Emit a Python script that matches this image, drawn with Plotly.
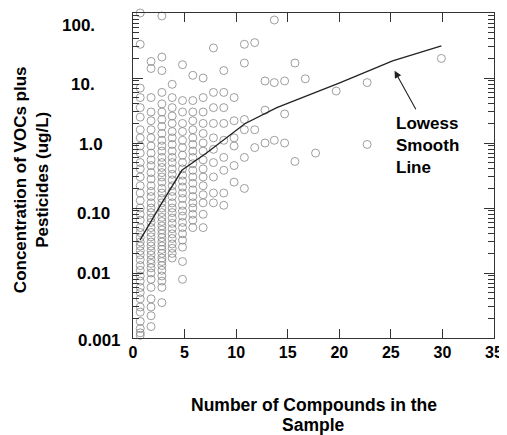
import plotly.graph_objects as go
import math

# Observed column positions (number of compounds) and concentrations (ug/L)
col_x = [0.7, 1.75, 2.8, 3.8, 4.8, 5.8, 6.8, 7.8, 8.8, 9.8, 10.8, 11.8,
         12.8, 13.7, 14.7, 15.7, 16.7, 17.7, 19.7, 20.7, 22.7, 29.9]
col_y = [
    [100, 33, 7, 5, 3.5, 2.5, 1.6, 1.2, 0.9, 0.7, 0.5, 0.4, 0.3, 0.22, 0.17, 0.13,
     0.1, 0.08, 0.065, 0.05, 0.042, 0.035, 0.03, 0.026, 0.022, 0.019, 0.016, 0.013,
     0.011, 0.009, 0.0075, 0.006, 0.005, 0.004, 0.003, 0.0025, 0.0018, 0.0014, 0.0012, 0.0011],
    [18, 14, 5, 3, 2.2, 1.6, 1.2, 0.9, 0.7, 0.55, 0.45, 0.35, 0.28, 0.22, 0.18, 0.15,
     0.12, 0.1, 0.085, 0.07, 0.06, 0.05, 0.042, 0.036, 0.03, 0.026, 0.022, 0.019,
     0.016, 0.014, 0.012, 0.01, 0.008, 0.006, 0.004, 0.003, 0.0022, 0.0015],
    [90, 21, 13, 6, 4, 3, 2.3, 1.8, 1.4, 1.1, 0.9, 0.75, 0.6, 0.5, 0.42, 0.35, 0.3,
     0.25, 0.2, 0.17, 0.14, 0.12, 0.1, 0.085, 0.072, 0.062, 0.053, 0.046, 0.04, 0.035,
     0.03, 0.026, 0.023, 0.02, 0.017, 0.015, 0.013, 0.011, 0.009, 0.0075, 0.006, 0.0035],
    [8, 5, 3.5, 2.6, 2, 1.5, 1.2, 0.95, 0.75, 0.6, 0.5, 0.4, 0.33, 0.27, 0.22, 0.18,
     0.15, 0.12, 0.1, 0.085, 0.07, 0.058, 0.048, 0.04, 0.034, 0.028, 0.024, 0.02, 0.017],
    [16, 4.5, 3, 2, 1.5, 1.1, 0.85, 0.65, 0.5, 0.4, 0.32, 0.26, 0.21, 0.17, 0.14,
     0.11, 0.09, 0.075, 0.06, 0.05, 0.04, 0.032, 0.025, 0.015, 0.008],
    [11, 4.5, 3, 2.2, 1.6, 1.2, 0.95, 0.75, 0.6, 0.48, 0.38, 0.3, 0.24, 0.19, 0.15,
     0.12, 0.1, 0.08, 0.065, 0.05],
    [10, 5, 3, 2, 1.4, 1, 0.75, 0.55, 0.4, 0.3, 0.22, 0.16, 0.12, 0.08, 0.05],
    [29, 6, 3.5, 2, 1.2, 0.8, 0.5, 0.3, 0.17, 0.12],
    [13, 6, 3.5, 2, 1.1, 0.6, 0.38, 0.17, 0.11],
    [5, 2.2, 1.2, 0.9, 0.45, 0.25],
    [33, 17, 2.3, 1.6, 0.6, 0.2],
    [35, 1.6, 0.85],
    [9, 3.2, 1.0],
    [78, 8.5, 1.1],
    [9, 2.8, 1.0],
    [17, 0.52],
    [9.7],
    [0.7],
    [6.3],
    [107],
    [8.5, 0.95],
    [20],
]

# Lowess smooth line
lowess_x = [0.68, 2.8, 4.74, 7.16, 10.84, 13.94, 20.04, 25.17, 29.9]
lowess_y = [0.032, 0.12, 0.38, 0.71, 1.98, 3.5, 8.4, 18.4, 31.2]

y_tickvals = [100, 10, 1, 0.1, 0.01, 0.001]
y_ticktext = ["100.", "10.", "1.0", "0.10", "0.01", "0.001"]
x_tickvals = [0, 5, 10, 15, 20, 25, 30, 35]

pts_x, pts_y = [], []
for cx, ys in zip(col_x, col_y):
    for v in ys:
        pts_x.append(cx)
        pts_y.append(v)

FONT = "Liberation Sans, Arial, sans-serif"

fig = go.Figure()
fig.add_trace(go.Scatter(
    x=pts_x, y=pts_y, mode="markers",
    marker=dict(symbol="circle-open", size=8, color="#858585", line=dict(width=0.8)),
    cliponaxis=False, showlegend=False,
))
fig.add_trace(go.Scatter(
    x=lowess_x, y=lowess_y, mode="lines", line=dict(color="#222222", width=1.3),
    showlegend=False,
))

# y tick label placement (label right edge in paper x, vertical shift in px)
lab_right = [-0.099, -0.099, -0.077, -0.058, -0.058, -0.028]
lab_shift = [-12, -6, -1, -5, 0, -2]

annotations = []
for v, t, xr, sh in zip(y_tickvals, y_ticktext, lab_right, lab_shift):
    annotations.append(dict(
        text=f"<b>{t}</b>", xref="paper", yref="y", x=xr, y=math.log10(v),
        xanchor="right", yanchor="middle", yshift=sh, showarrow=False,
        font=dict(size=17)))

annotations += [
    dict(text="<b>Concentration of VOCs plus</b>",
         xref="paper", yref="paper", x=-0.311, y=0.488, textangle=-90,
         showarrow=False, font=dict(size=17), xanchor="center", yanchor="middle"),
    dict(text="<b>Pesticides (ug/L)</b>",
         xref="paper", yref="paper", x=-0.251, y=0.488, textangle=-90,
         showarrow=False, font=dict(size=17), xanchor="center", yanchor="middle"),
    dict(text="<b>Number of Compounds in the</b>",
         xref="paper", yref="paper", x=0.5, y=-0.2055, showarrow=False,
         font=dict(size=17.5), xanchor="center", yanchor="middle"),
    dict(text="<b>Sample</b>",
         xref="paper", yref="paper", x=0.5, y=-0.267, showarrow=False,
         font=dict(size=17.5), xanchor="center", yanchor="middle"),
    dict(text="<b>Lowess<br>Smooth<br>Line</b>", x=25.35, y=0.0, xref="x", yref="y",
         xanchor="left", yanchor="middle", align="left", showarrow=False,
         yshift=-2, font=dict(size=17)),
    dict(x=25.36, y=1.11, ax=27.5, ay=0.497, xref="x", yref="y", axref="x", ayref="y",
         showarrow=True, arrowhead=2, arrowsize=1.3, arrowwidth=1.1, arrowcolor="#222",
         text=""),
]

# the page body has an 8px margin, so the figure is sized to sit in the 507x435 window
fig.update_layout(
    width=499, height=427,
    margin=dict(l=125, r=11, t=4, b=97),
    plot_bgcolor="white", paper_bgcolor="white",
    font=dict(family=FONT, size=15, color="black"),
    xaxis=dict(
        range=[0, 35], tickvals=x_tickvals, ticks="inside", ticklen=9, tickwidth=1,
        tickcolor="#333", showline=True, linecolor="#333", linewidth=1, mirror="ticks",
        showgrid=False, zeroline=False,
        tickfont=dict(family=FONT, size=16, weight="bold"),
    ),
    yaxis=dict(
        type="log", range=[-3, 2], tickvals=y_tickvals, showticklabels=False,
        ticks="inside", ticklen=10, tickwidth=1, tickcolor="#333",
        showline=True, linecolor="#333", linewidth=1, mirror="ticks",
        showgrid=False, zeroline=False,
        minor=dict(ticks="inside", ticklen=6, tickcolor="#333", dtick="D1", showgrid=False),
    ),
    annotations=annotations,
)

fig.write_html("out.html", config={"displayModeBar": False},
               post_script="document.body.style.overflow='hidden';")
